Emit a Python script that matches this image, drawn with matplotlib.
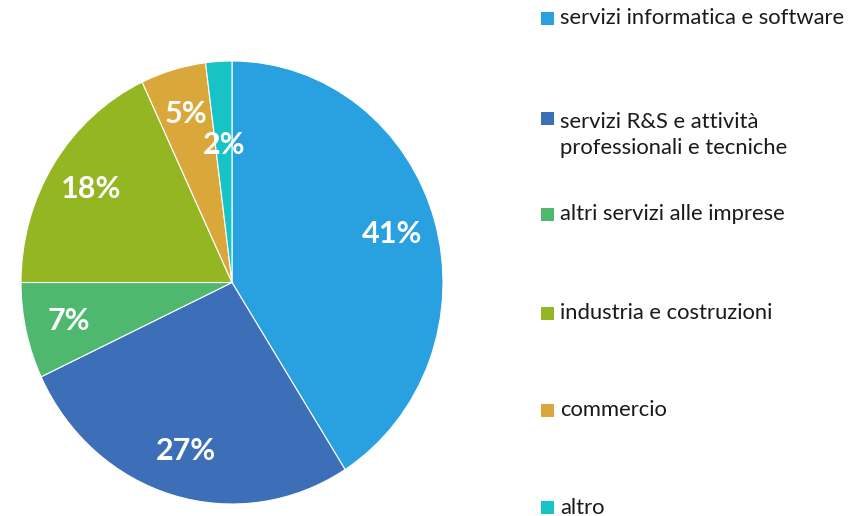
import numpy as np
import matplotlib.pyplot as plt
from matplotlib.patches import Rectangle

plt.rcParams['font.family'] = ['Lato', 'DejaVu Sans']

# --- dati ---
settori = ["servizi informatica e software",
           "servizi R&S e attività\nprofessionali e tecniche",
           "altri servizi alle imprese",
           "industria e costruzioni",
           "commercio",
           "altro"]
quote = [41, 27, 7, 18, 5, 2]
colori = ["#29A0DF", "#3D6FB8", "#4EB96E", "#94B622", "#DAA83A", "#17C3C5"]

W, H = 854, 516
fig = plt.figure(figsize=(W / 100, H / 100), dpi=100)

# torta leggermente ellittica come nell'originale
ax = fig.add_axes([21 / W, 12 / H, 422 / W, 443 / H])
wedges, testi, autotesti = ax.pie(
    quote, colors=colori, startangle=90, counterclock=False,
    autopct='%1.0f%%', pctdistance=0.79,
    wedgeprops=dict(edgecolor='white', linewidth=0.8),
    textprops=dict(color='white', fontsize=22, fontweight='bold'))
ax.set_aspect('auto')
ax.set_xlim(-1, 1)
ax.set_ylim(-1, 1)

# la fetta piccola ha l'etichetta più interna
for w, t, q in zip(wedges, autotesti, quote):
    if q < 3:
        ang = np.deg2rad((w.theta1 + w.theta2) / 2)
        t.set_position((0.62 * np.cos(ang), 0.62 * np.sin(ang)))

# --- legenda a mano ---
y_centri = [18.5, 118.5, 214.5, 313, 410.5, 507.5]
interlinea = 30  # px
for s, c, yc in zip(settori, colori, y_centri):
    fig.patches.append(Rectangle((541 / W, 1 - (yc + 6.5) / H), 13 / W, 13 / H,
                                 transform=fig.transFigure, facecolor=c,
                                 edgecolor='none'))
    n = s.count('\n')
    fig.text(560 / W, 1 - (yc + 6 + n * interlinea) / H, s, fontsize=15.8,
             color='#1a1a1a', va='baseline', ha='left', linespacing=1.42)

fig.savefig('out.png', dpi=100)
